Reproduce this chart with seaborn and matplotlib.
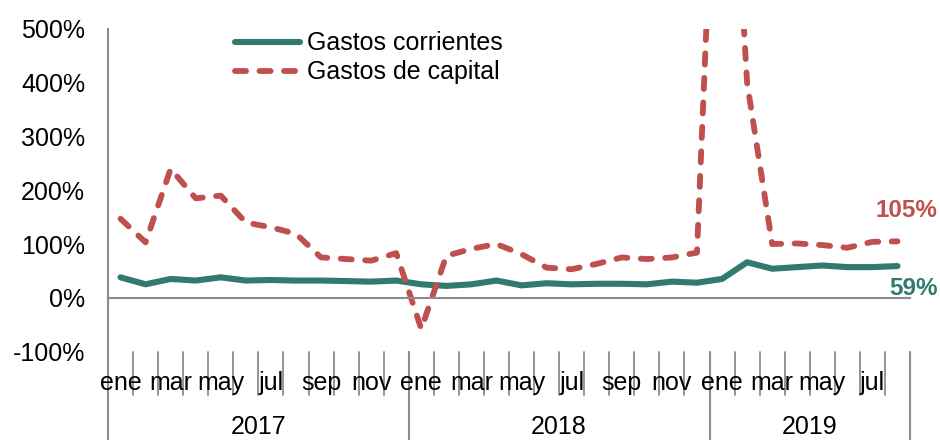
import numpy as np
import pandas as pd
import matplotlib
matplotlib.use("Agg")
import matplotlib.pyplot as plt
import matplotlib.transforms as mtransforms
import seaborn as sns

# datos (variación % mensual)
meses = ['ene', 'feb', 'mar', 'abr', 'may', 'jun', 'jul', 'ago', 'sep', 'oct', 'nov', 'dic',
         'ene', 'feb', 'mar', 'abr', 'may', 'jun', 'jul', 'ago', 'sep', 'oct', 'nov', 'dic',
         'ene', 'feb', 'mar', 'abr', 'may', 'jun', 'jul', 'ago']
anios = ['2017'] * 12 + ['2018'] * 12 + ['2019'] * 8
corrientes = [38, 25, 35, 32, 38, 32, 33, 32, 32, 31, 30, 32,
              25, 22, 25, 32, 23, 27, 25, 26, 26, 25, 30, 28,
              35, 66, 54, 57, 60, 57, 57, 59]
capital = [147, 103, 240, 185, 190, 140, 131, 119, 75, 72, 69, 83,
           -58, 78, 91, 100, 81, 56, 53, 63, 75, 72, 75, 84,
           1200, 400, 100, 101, 98, 93, 104, 105]
meses_con_etiqueta = ['ene', 'mar', 'may', 'jul', 'sep', 'nov']

col_corr = '#317A70'
col_cap = '#C0504D'
gris = '#8C8C8C'

sns.set_style('white')
plt.rcParams['font.family'] = ['Liberation Sans', 'DejaVu Sans']
plt.rcParams['text.color'] = 'black'
plt.rcParams['ytick.labelcolor'] = 'black'

df = pd.DataFrame({'i': np.arange(len(meses)), 'mes': meses, 'anio': anios,
                   'Gastos corrientes': corrientes, 'Gastos de capital': capital})

fig = plt.figure(figsize=(9.4, 4.4), dpi=100)
ax = fig.add_axes([108 / 940, 1 - 351.5 / 440, (910 - 108) / 940, (351.5 - 29) / 440])

sns.lineplot(data=df, x='i', y='Gastos corrientes', ax=ax, color=col_corr, lw=4.4,
             label='Gastos corrientes', solid_capstyle='round', solid_joinstyle='round')
sns.lineplot(data=df, x='i', y='Gastos de capital', ax=ax, color=col_cap, lw=4.2,
             linestyle=(0, (1.9, 2.3)), dash_capstyle='round', dash_joinstyle='round',
             label='Gastos de capital')

ax.set_xlim(-0.5, len(meses) - 0.5)
ax.set_ylim(-100, 500)
ax.set_yticks(range(-100, 501, 100))
ax.set_yticklabels([f'{v}%' for v in range(-100, 501, 100)], fontsize=18)
ax.set_xlabel('')
ax.set_ylabel('')

for s in ['top', 'right']:
    ax.spines[s].set_visible(False)
ax.spines['left'].set_color(gris)
ax.spines['left'].set_linewidth(1.5)
ax.spines['bottom'].set_position(('data', 0))
ax.spines['bottom'].set_color(gris)
ax.spines['bottom'].set_linewidth(1.5)
ax.tick_params(axis='y', direction='out', length=6.5, width=1.3, color=gris, pad=10)
ax.set_xticks(np.arange(-0.5, len(meses), 1.0))
ax.tick_params(axis='x', direction='out', length=5.5, width=1.3, color=gris, labelbottom=False)

# eje de categorías en dos niveles
tr = mtransforms.blended_transform_factory(ax.transData, ax.transAxes)
for i, m in enumerate(meses):
    if m in meses_con_etiqueta:
        ax.text(i, -0.097, m, transform=tr, ha='center', va='center', fontsize=18)
for b in np.arange(-0.5, len(meses), 1.0):
    ax.plot([b, b], [0, -0.134], transform=tr, color=gris, lw=1.3, clip_on=False)
limites = [-0.5] + [i + 0.5 for i in range(len(anios) - 1) if anios[i] != anios[i + 1]] + [len(anios) - 0.5]
for b in limites:
    ax.plot([b, b], [0, -0.3], transform=tr, color=gris, lw=1.5, clip_on=False)
for a in sorted(set(anios)):
    idx = [i for i, v in enumerate(anios) if v == a]
    ax.text((idx[0] + idx[-1]) / 2, -0.233, a, transform=tr, ha='center', va='center', fontsize=18)

# etiquetas del último valor
ax.annotate(f'{capital[-1]}%', xy=(len(meses) - 1, capital[-1]), xytext=(29, 22),
            textcoords='offset points', ha='right', va='center', fontsize=17.5,
            fontweight='bold', color=col_cap, annotation_clip=False)
ax.annotate(f'{corrientes[-1]}%', xy=(len(meses) - 1, corrientes[-1]), xytext=(29, -16),
            textcoords='offset points', ha='right', va='center', fontsize=17.5,
            fontweight='bold', color=col_corr, annotation_clip=False)

leg = ax.legend(loc='upper left', bbox_to_anchor=(222 / 940, 1 - 19 / 440),
                bbox_transform=fig.transFigure, frameon=False, fontsize=18,
                handlelength=2.6, handletextpad=0.3, labelspacing=0.2, borderpad=0)

fig.savefig('out.png', dpi=100)
